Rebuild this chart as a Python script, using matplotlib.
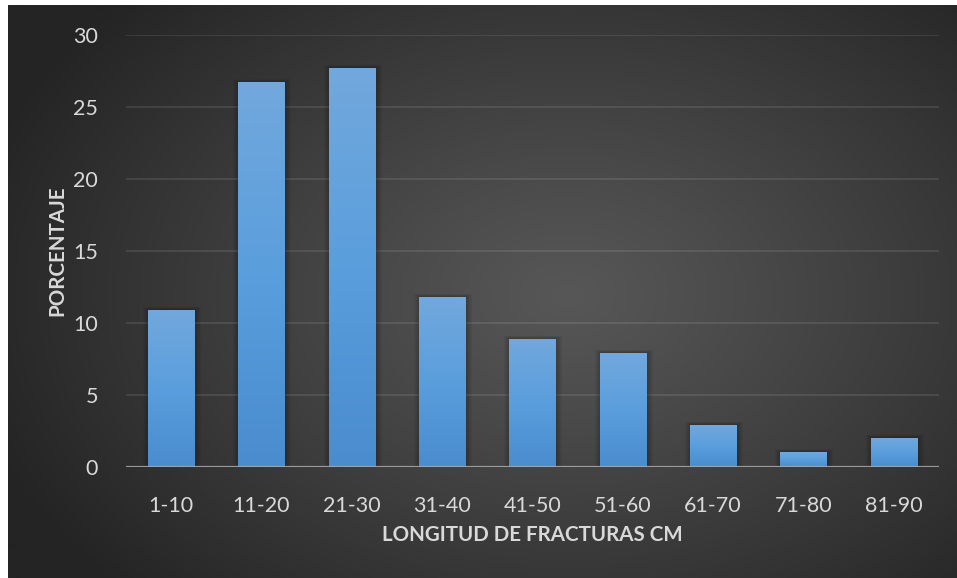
import numpy as np
import matplotlib
matplotlib.use("Agg")
import matplotlib.pyplot as plt
from matplotlib.patches import Rectangle
from matplotlib.colors import LinearSegmentedColormap

# Data
categories = ["1-10", "11-20", "21-30", "31-40", "41-50", "51-60", "61-70", "71-80", "81-90"]
percentages = [10.9, 26.7, 27.7, 11.8, 8.9, 7.9, 2.9, 1.0, 2.0]
y_ticks = [0, 5, 10, 15, 20, 25, 30]

plt.rcParams["font.family"] = ["Lato", "DejaVu Sans"]

W, H = 957, 578
fig = plt.figure(figsize=(W / 100, H / 100), dpi=100, facecolor="white")

# Dark radial-gradient backdrop
bg = fig.add_axes([8 / W, 0, 949 / W, 573 / H])
bg.axis("off")
gx = np.linspace(0, 949, 475)
gy = np.linspace(0, 573, 287)
X, Y = np.meshgrid(gx, gy)
cx, cy = 560, 290
r = np.sqrt(((X - cx) / 620) ** 2 + ((Y - cy) / 430) ** 2)
r = np.clip(r, 0, 1)
inner, outer = 0x57 / 255, 0x24 / 255
val = inner + (outer - inner) * r ** 1.1
img = np.dstack([val, val, val])
bg.imshow(img, aspect="auto", extent=[0, 1, 0, 1], interpolation="bilinear")
bg.set_xlim(0, 1)
bg.set_ylim(0, 1)

# Plot area
left, right = 126, 939
top, bottom = 34.7, 466.7
ax = fig.add_axes([left / W, 1 - bottom / H, (right - left) / W, (bottom - top) / H])
ax.patch.set_alpha(0)
x = np.arange(len(categories))

for s in ax.spines.values():
    s.set_visible(False)

# Gridlines
for t in y_ticks[1:]:
    ax.axhline(t, color="white", alpha=0.1, lw=1.3, zorder=1)

bar_w = 0.51
bars = ax.bar(x, percentages, width=bar_w, color="none", zorder=3)

# Soft shadow around bars
for b in bars:
    bx, bw, bh = b.get_x(), b.get_width(), b.get_height()
    for k in range(1, 7):
        dx = 0.011 * k
        dy = 0.035 * k
        ax.add_patch(Rectangle((bx - dx + 0.008, 0), bw + 2 * dx, bh + dy,
                               facecolor="black", edgecolor="none",
                               alpha=0.04, zorder=2))

# Vertical gradient fill for each bar
cmap = LinearSegmentedColormap.from_list("barfill", ["#4a8cce", "#5a9edd", "#72a8dc"])
grad = np.linspace(0, 1, 256).reshape(-1, 1)
for b in bars:
    bx, bw, bh = b.get_x(), b.get_width(), b.get_height()
    im = ax.imshow(grad, cmap=cmap, origin="lower", aspect="auto",
                   extent=[bx, bx + bw, 0, bh], zorder=3, interpolation="bilinear")
    im.set_clip_path(b)
ax.set_xlim(-0.5, len(categories) - 0.5)
ax.set_ylim(0, 30)

# Baseline
ax.axhline(0, color="#a6a6a6", lw=2.3, alpha=0.9, zorder=4)

ax.set_xticks(x)
ax.set_xticklabels(categories)
ax.set_yticks(y_ticks)
ax.tick_params(axis="both", length=0, colors="#d9d9d9", labelsize=15.5)
ax.tick_params(axis="x", pad=21)
ax.tick_params(axis="y", pad=20)

fig.text(532 / W, 1 - 535 / H, "LONGITUD DE FRACTURAS CM", ha="center", va="center",
         color="#d9d9d9", fontsize=14.8, fontweight="bold")
fig.text(57 / W, 1 - 251 / H, "PORCENTAJE", ha="center", va="center", rotation=90,
         color="#d9d9d9", fontsize=14.8, fontweight="bold")

fig.savefig("out.png", dpi=100, facecolor="white")
